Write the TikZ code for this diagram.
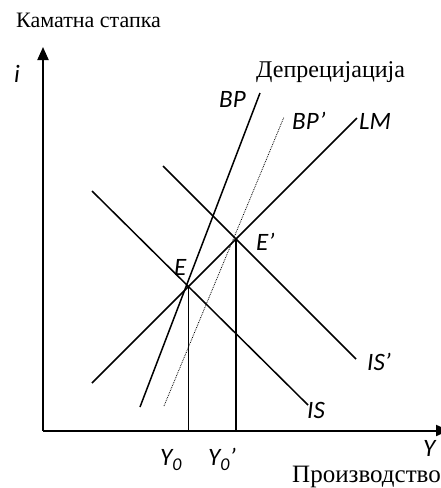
\documentclass[tikz,border=0pt]{standalone}
\usepackage{fontspec}
\setmainfont{Liberation Serif}
\newfontfamily\lblfont{Carlito}
\usetikzlibrary{arrows.meta,intersections}
\newcommand{\subz}{\raisebox{-0.22em}{\fontsize{18}{18}\selectfont 0}}
\tikzset{
  axisline/.style={line width=2pt,-{Triangle[length=13pt,width=11pt]}},
  curve/.style={line width=1.5pt},
  dotcurve/.style={line width=0.8pt,densely dotted},
  lbl/.style={font=\lblfont\itshape\fontsize{25}{25}\selectfont,inner sep=0pt,anchor=base west},
  cyr/.style={inner sep=0pt,anchor=base west},
}
\begin{document}
\begin{tikzpicture}[x=1pt,y=-1pt]
\useasboundingbox (0,0) rectangle (441,488);
% axes
\coordinate (O) at (43,430.5);
\coordinate (Ytop) at (43,47);
\coordinate (Xend) at (449,430.5);
\draw[axisline] (O) -- (Ytop);
\draw[axisline] (O) -- (Xend);
% curves
\draw[curve,name path=LM] (92,383) coordinate (LMa) -- (357,118) coordinate (LMb);
\draw[curve,name path=IS] (92,191) coordinate (ISa) -- (308,405) coordinate (ISb);
\draw[curve,name path=ISp] (163,166) coordinate (ISpa) -- (356,359) coordinate (ISpb);
\path[name intersections={of=LM and IS,by=E}];
\path[name intersections={of=LM and ISp,by=Ep}];
\draw[curve] (140,407) coordinate (BPa) -- (260,93) coordinate (BPb);
\draw[dotcurve] (164,406) coordinate (BPpa) -- (284,117) coordinate (BPpb);
% verticals
\draw[curve] (E) -- (E |- O);
\draw[curve] (Ep) -- (Ep |- O);
% labels
\node[cyr] (tI) at (16,27.7) {\fontsize{22}{22}\selectfont Каматна стапка};
\node[cyr] (tD) at (256,77.5) {\fontsize{24}{24}\selectfont Депрецијација};
\node[cyr] (tP) at (292,482) {\fontsize{25}{25}\selectfont Производство};
\node[lbl] (li) at (14,82) {i};
\node[lbl] (lBP) at (219,107) {BP};
\node[lbl] (lBPp) at (292,129) {BP’};
\node[lbl] (lLM) at (359,129) {LM};
\node[lbl] (lE) at (174,275) {E};
\node[lbl] (lEp) at (256,250) {E’};
\node[lbl] (lISp) at (367,370) {IS’};
\node[lbl] (lIS) at (307,418) {IS};
\node[lbl] (lY0) at (160,465) {Y\subz};
\node[lbl] (lY0p) at (208,465) {Y\subz’};
\node[lbl] (lY) at (423,456) {Y};
\end{tikzpicture}
\end{document}
